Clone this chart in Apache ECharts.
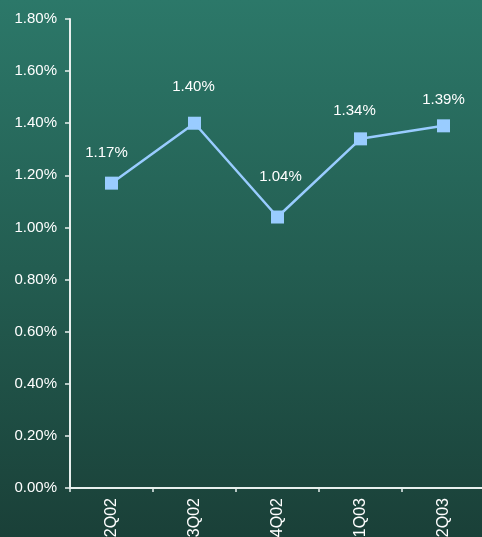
<!DOCTYPE html>
<html>
<head>
<meta charset="utf-8">
<script src="https://cdn.jsdelivr.net/npm/echarts@6/dist/echarts.min.js"></script>
<style>
  html, body { margin: 0; padding: 0; }
  #chart { width: 482px; height: 537px;
    background: linear-gradient(to bottom, #2c7869 0%, #235d51 50%, #1a4038 100%); }
</style>
</head>
<body>
<div id="chart"></div>
<script>
// Quarterly rate, in percent
const quarters = ['2Q02', '3Q02', '4Q02', '1Q03', '2Q03'];
const rates = [1.17, 1.40, 1.04, 1.34, 1.39];
const yTicks = { min: 0, max: 1.8, step: 0.2 };

const labelOffsets = [[-5, -8], [-1, -14], [3, -18], [-6, -6], [0, -4]];

const chart = echarts.init(document.getElementById('chart'), null, { renderer: 'canvas' });
const font = 'Liberation Sans, Arial, sans-serif';

chart.setOption({
  backgroundColor: 'transparent',
  animation: false,
  grid: { left: 70, top: 19, width: 415, bottom: 49, containLabel: false, outerBoundsMode: 'none' },
  xAxis: {
    type: 'category',
    data: quarters,
    boundaryGap: true,
    axisLine: { lineStyle: { color: '#e8f0ee', width: 2 } },
    axisTick: { show: true, length: 4, lineStyle: { color: '#e8f0ee', width: 1.5 } },
    axisLabel: { rotate: 90, color: '#ffffff', fontFamily: font, fontSize: 16, margin: 10 },
    splitLine: { show: false }
  },
  yAxis: {
    type: 'value',
    min: yTicks.min,
    max: yTicks.max,
    interval: yTicks.step,
    axisLine: { show: true, lineStyle: { color: '#e8f0ee', width: 2 } },
    axisTick: { show: true, length: 5, lineStyle: { color: '#e8f0ee', width: 1.5 } },
    axisLabel: {
      color: '#ffffff', fontFamily: font, fontSize: 15, margin: 13,
      formatter: v => v.toFixed(2) + '%'
    },
    splitLine: { show: false }
  },
  series: [{
    type: 'line',
    data: rates.map((v, i) => ({
      value: v,
      label: { offset: labelOffsets[i] }
    })),
    symbol: 'rect',
    symbolSize: 13,
    itemStyle: { color: '#99ccff' },
    lineStyle: { color: '#99ccff', width: 2.5 },
    label: {
      show: true,
      position: 'top',
      distance: 8,
      color: '#ffffff',
      fontFamily: font,
      fontSize: 15,
      formatter: p => p.value.toFixed(2) + '%'
    }
  }]
});
</script>
</body>
</html>
